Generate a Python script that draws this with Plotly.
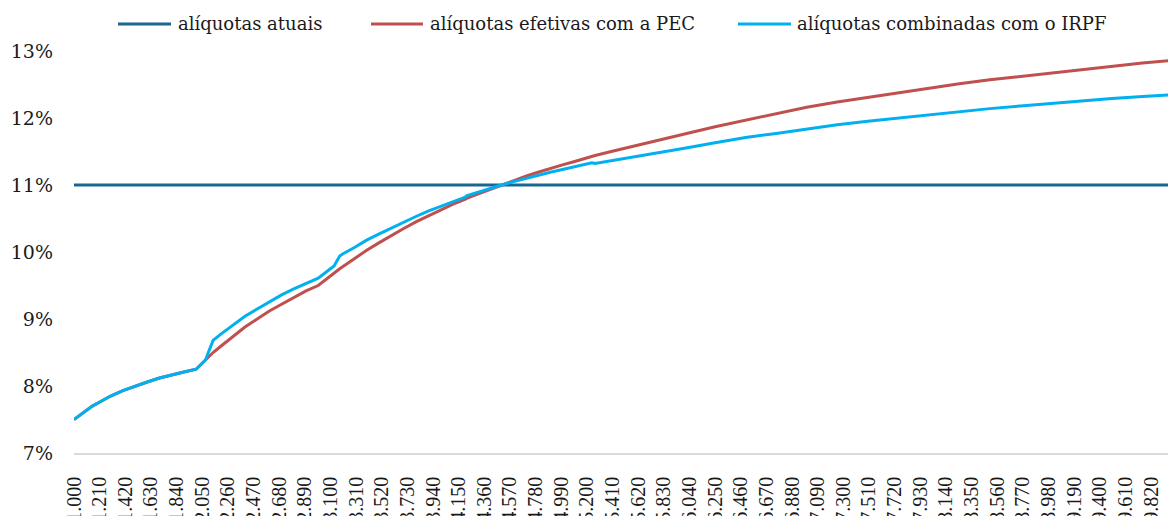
import plotly.graph_objects as go

# Salary (R$) at which values were read
salario = [1000, 1050, 1100, 1150, 1200, 1300, 1400, 1500, 1600, 1700,
           1800, 1900, 2000, 2078, 2100, 2139, 2200, 2300, 2400, 2500,
           2600, 2700, 2800, 2900, 3000, 3100, 3130, 3176, 3200, 3300,
           3400, 3500, 3600, 3700, 3800, 3900, 4000, 4100, 4205, 4215,
           4300, 4400, 4500, 4600, 4700, 4800, 4900, 5000, 5100, 5241,
           5267, 5400, 5600, 5840, 6000, 6250, 6500, 6750, 7000, 7250,
           7500, 7750, 8000, 8250, 8500, 8750, 9000, 9250, 9500, 9750,
           10000]

# alíquotas atuais (%)
atuais = [11.0] * len(salario)

# alíquotas efetivas com a PEC (%)
pec = [7.50, 7.57, 7.64, 7.70, 7.75, 7.85, 7.93, 8.00, 8.06, 8.12,
       8.17, 8.21, 8.25, 8.39, 8.43, 8.50, 8.59, 8.74, 8.88, 9.00,
       9.12, 9.22, 9.32, 9.42, 9.50, 9.65, 9.69, 9.75, 9.78, 9.91,
       10.03, 10.14, 10.25, 10.35, 10.45, 10.54, 10.63, 10.71, 10.79, 10.80,
       10.86, 10.93, 11.00, 11.07, 11.13, 11.19, 11.25, 11.30, 11.35, 11.43,
       11.44, 11.50, 11.59, 11.69, 11.76, 11.87, 11.97, 12.07, 12.16, 12.24,
       12.31, 12.38, 12.45, 12.51, 12.57, 12.62, 12.68, 12.73, 12.77, 12.82,
       12.86]

# alíquotas combinadas com o IRPF (%)
combinadas = [7.50, 7.57, 7.64, 7.70, 7.75, 7.85, 7.93, 8.00, 8.06, 8.12,
              8.17, 8.21, 8.25, 8.39, 8.50, 8.68, 8.77, 8.91, 9.04, 9.15,
              9.26, 9.36, 9.45, 9.53, 9.61, 9.75, 9.79, 9.94, 9.97, 10.07,
              10.18, 10.27, 10.36, 10.45, 10.53, 10.61, 10.68, 10.75, 10.82, 10.84,
              10.89, 10.95, 11.00, 11.05, 11.10, 11.15, 11.19, 11.23, 11.27, 11.33,
              11.32, 11.36, 11.43, 11.50, 11.55, 11.63, 11.71, 11.77, 11.84, 11.90,
              11.95, 12.00, 12.05, 12.10, 12.14, 12.18, 12.22, 12.25, 12.29, 12.32,
              12.35]

tick_vals = [1000, 1210, 1420, 1630, 1840, 2050, 2260, 2470, 2680, 2890,
             3100, 3310, 3520, 3730, 3940, 4150, 4360, 4570, 4780, 4990,
             5200, 5410, 5620, 5830, 6040, 6250, 6460, 6670, 6880, 7090,
             7300, 7510, 7720, 7930, 8140, 8350, 8560, 8770, 8980, 9190,
             9400, 9610, 9820]
tick_text = ["1.000", "1.210", "1.420", "1.630", "1.840", "2.050", "2.260", "2.470",
             "2.680", "2.890", "3.100", "3.310", "3.520", "3.730", "3.940", "4.150",
             "4.360", "4.570", "4.780", "4.990", "5.200", "5.410", "5.620", "5.830",
             "6.040", "6.250", "6.460", "6.670", "6.880", "7.090", "7.300", "7.510",
             "7.720", "7.930", "8.140", "8.350", "8.560", "8.770", "8.980", "9.190",
             "9.400", "9.610", "9.820"]

y_vals = [7, 8, 9, 10, 11, 12, 13]
y_text = ["7%", "8%", "9%", "10%", "11%", "12%", "13%"]

names = ["alíquotas atuais", "alíquotas efetivas com a PEC", "alíquotas combinadas com o IRPF"]
colors = ["#19668F", "#C0504D", "#00B0F0"]
series = [atuais, pec, combinadas]

# page body adds an 8px offset; figure coordinates below are page pixels minus 8
OFF = 8
W, H = 1176, 516
ML, MR, MT, MB = 74 - OFF, 11, 51 - OFF, 71
PW, PH = W - ML - MR, H - MT - MB

fig = go.Figure()
for nm, col, ys in zip(names, colors, series):
    fig.add_trace(go.Scatter(x=salario, y=ys, mode="lines", name=nm,
                             line=dict(color=col, width=3), showlegend=False))

def px_x(p):
    return (p - OFF - ML) / PW

def px_y(p):
    return (H - MB - (p - OFF)) / PH

legend_items = [(118, 171, 176), (371, 423, 428), (738, 791, 795)]
shapes = []
annotations = []
for (x0, x1, xt), nm, col in zip(legend_items, names, colors):
    shapes.append(dict(type="line", xref="paper", yref="paper",
                       x0=px_x(x0), x1=px_x(x1), y0=px_y(24), y1=px_y(24),
                       line=dict(color=col, width=3)))
    annotations.append(dict(xref="paper", yref="paper", x=px_x(xt), y=px_y(23),
                            text=nm, showarrow=False, xanchor="left", yanchor="middle",
                            font=dict(family="DejaVu Serif", size=18, color="#1a1a1a")))

fig.update_layout(
    width=W, height=H,
    margin=dict(l=ML, r=MR, t=MT, b=MB, autoexpand=False),
    paper_bgcolor="white", plot_bgcolor="white",
    shapes=shapes, annotations=annotations,
    showlegend=False,
    xaxis=dict(range=[1000, 10000], tickmode="array", tickvals=tick_vals, ticktext=tick_text,
               tickangle=-90, showgrid=False, zeroline=False, showline=True,
               linecolor="#D9D9D9", linewidth=1.5, ticks="", automargin=False,
               ticklabelstandoff=14,
               tickfont=dict(family="Liberation Serif", size=20, color="#1a1a1a")),
    yaxis=dict(range=[7, 13], tickmode="array", tickvals=y_vals, ticktext=y_text,
               showgrid=False, zeroline=False, showline=False, ticks="",
               automargin=False, ticklabelstandoff=20,
               tickfont=dict(family="DejaVu Serif", size=19, color="#1a1a1a")),
)

fig.write_html("out.html")
